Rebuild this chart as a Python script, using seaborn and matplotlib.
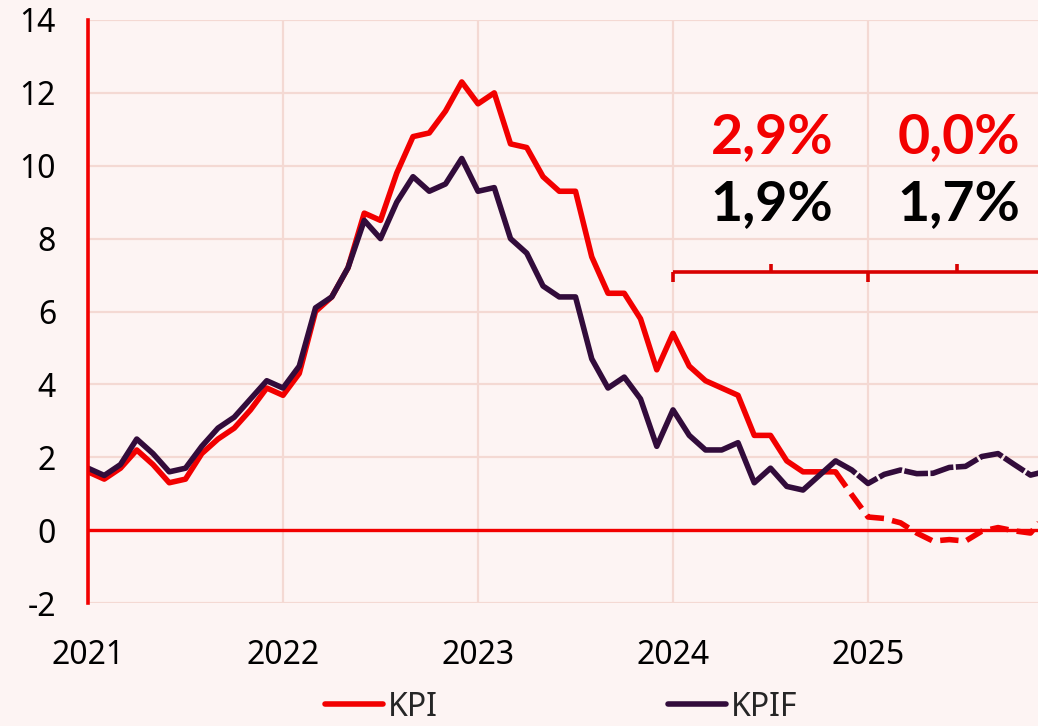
import matplotlib
matplotlib.use("Agg")
import matplotlib.pyplot as plt
import numpy as np
import pandas as pd
import seaborn as sns
from matplotlib.lines import Line2D

# ---------------- data ----------------
year_labels = ["2021", "2022", "2023", "2024", "2025"]
y_ticks = [-2, 0, 2, 4, 6, 8, 10, 12, 14]

# monthly outcome, Jan 2021 - Nov 2024
kpi_actual = [1.6, 1.4, 1.7, 2.2, 1.8, 1.3, 1.4, 2.1, 2.5, 2.8, 3.3, 3.9,
              3.7, 4.3, 6.0, 6.4, 7.2, 8.7, 8.5, 9.8, 10.8, 10.9, 11.5, 12.3,
              11.7, 12.0, 10.6, 10.5, 9.7, 9.3, 9.3, 7.5, 6.5, 6.5, 5.8, 4.4,
              5.4, 4.5, 4.1, 3.9, 3.7, 2.6, 2.6, 1.9, 1.6, 1.6, 1.6]
kpif_actual = [1.7, 1.5, 1.8, 2.5, 2.1, 1.6, 1.7, 2.3, 2.8, 3.1, 3.6, 4.1,
               3.9, 4.5, 6.1, 6.4, 7.2, 8.5, 8.0, 9.0, 9.7, 9.3, 9.5, 10.2,
               9.3, 9.4, 8.0, 7.6, 6.7, 6.4, 6.4, 4.7, 3.9, 4.2, 3.6, 2.3,
               3.3, 2.6, 2.2, 2.2, 2.4, 1.3, 1.7, 1.2, 1.1, 1.5, 1.9]
# forecast, Nov 2024 - Dec 2025
kpi_forecast = [1.6, 0.97, 0.36, 0.32, 0.2, -0.08, -0.3, -0.26, -0.3, -0.03,
                0.07, -0.02, -0.08, 0.46]
kpif_forecast = [1.9, 1.65, 1.28, 1.53, 1.65, 1.55, 1.56, 1.72, 1.75, 2.02,
                 2.1, 1.8, 1.51, 1.62]

yearly_kpi = ["2,9%", "0,0%"]
yearly_kpif = ["1,9%", "1,7%"]
series_names = ["KPI", "KPIF"]

# ---------------- styling ----------------
RED = "#F20000"
PURPLE = "#320C3B"
BRACKET = "#D80000"
BG = "#FDF4F3"
GRID = "#F4D9D3"

sns.set_theme(style="white")
plt.rcParams["font.family"] = ["Noto Sans", "DejaVu Sans"]

n_act = len(kpi_actual)
x_act = np.arange(n_act)
x_fc = np.arange(n_act - 1, n_act - 1 + len(kpi_forecast))

df_act = pd.DataFrame({"month": np.concatenate([x_act, x_act]),
                       "value": kpi_actual + kpif_actual,
                       "series": ["KPI"] * n_act + ["KPIF"] * n_act})
df_fc = pd.DataFrame({"month": np.concatenate([x_fc, x_fc]),
                      "value": kpi_forecast + kpif_forecast,
                      "series": ["KPI"] * len(x_fc) + ["KPIF"] * len(x_fc)})

W, H = 1038, 726
fig = plt.figure(figsize=(W / 100, H / 100), dpi=100, facecolor=BG)
ax = fig.add_axes([88 / W, 1 - 603 / H, 950 / W, 583 / H])
ax.set_facecolor(BG)

LW = 4.0
# zero line
ax.axhline(0, color=RED, lw=2.4, zorder=2)

# KPI
sns.lineplot(data=df_act[df_act.series == "KPI"], x="month", y="value",
             ax=ax, color=RED, lw=LW, zorder=3)
sns.lineplot(data=df_fc[df_fc.series == "KPI"], x="month", y="value",
             ax=ax, color=RED, lw=LW, zorder=3, linestyle=(0, (3.3, 1.5)))
# KPIF
sns.lineplot(data=df_act[df_act.series == "KPIF"], x="month", y="value",
             ax=ax, color=PURPLE, lw=LW, zorder=4)
sns.lineplot(data=df_fc[df_fc.series == "KPIF"], x="month", y="value",
             ax=ax, color=PURPLE, lw=LW, zorder=4, linestyle=(0, (4.3, 0.45)))

# axes
ax.set_xlim(0, 58.46)
ax.set_ylim(-2, 14)
ax.set_xticks([0, 12, 24, 36, 48])
ax.set_xticklabels(year_labels)
ax.set_yticks(y_ticks)
ax.set_yticklabels([str(v) for v in y_ticks])
ax.set_xlabel("")
ax.set_ylabel("")
ax.grid(True, color=GRID, lw=1.6, zorder=0)
ax.set_axisbelow(True)
for s in ["top", "right", "bottom"]:
    ax.spines[s].set_visible(False)
ax.spines["left"].set_color(RED)
ax.spines["left"].set_linewidth(2.6)
ax.spines["left"].set_zorder(5)
ax.tick_params(axis="both", length=0, labelsize=23, colors="black")
ax.tick_params(axis="x", pad=26)
ax.tick_params(axis="y", pad=23)

# bracket annotations
br_y, br_down, br_up = 7.09, 6.81, 7.30
ax.plot([36, 60], [br_y, br_y], color=BRACKET, lw=2.6, zorder=3,
        solid_capstyle="butt")
for xv in [36, 48]:
    ax.plot([xv, xv], [br_down, br_y], color=BRACKET, lw=2.6, zorder=3,
            solid_capstyle="butt")
for xv in [42, 53.5]:
    ax.plot([xv, xv], [br_y, br_up], color=BRACKET, lw=2.6, zorder=3,
            solid_capstyle="butt")

for xc, t1, t2 in zip([42.1, 53.6], yearly_kpi, yearly_kpif):
    ax.text(xc, 10.34, t1, color=RED, fontsize=40, fontweight="bold",
            family=["Lato", "DejaVu Sans"], ha="center", va="baseline", zorder=6)
    ax.text(xc, 8.51, t2, color="black", fontsize=40, fontweight="bold",
            family=["Lato", "DejaVu Sans"], ha="center", va="baseline", zorder=6)

# legend
handles = [Line2D([0], [0], color=RED, lw=LW),
           Line2D([0], [0], color=PURPLE, lw=LW)]
fig.legend(handles, series_names, loc="center", ncol=2,
           bbox_to_anchor=(561 / W, 1 - 707 / H), frameon=False,
           fontsize=23, handlelength=1.81, handletextpad=0.16,
           columnspacing=7.2, borderpad=0, borderaxespad=0)

fig.savefig("out.png", dpi=100, facecolor=BG)
